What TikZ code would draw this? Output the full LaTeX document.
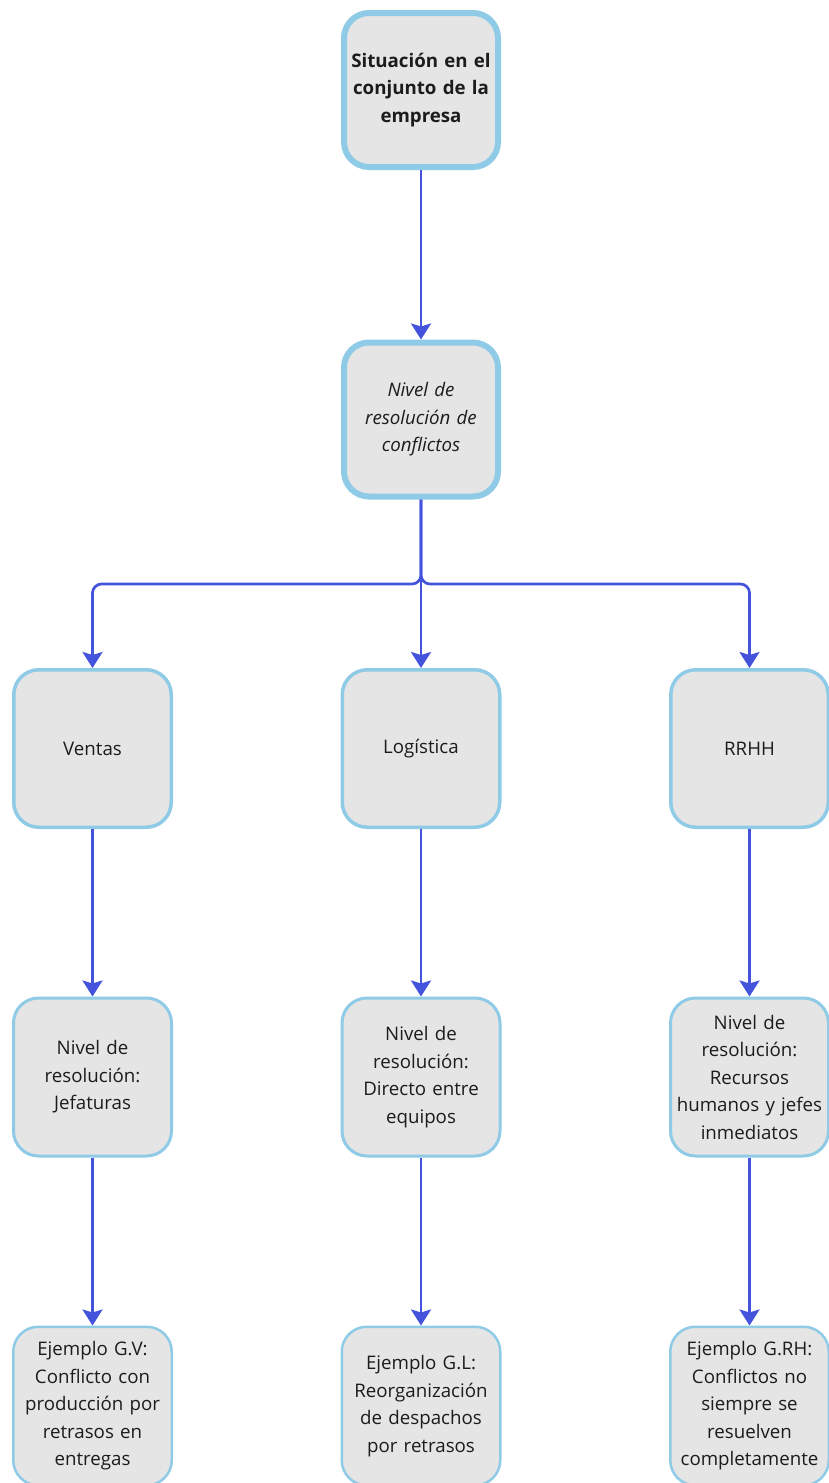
\documentclass[tikz,border=0pt]{standalone}
\usepackage{fontspec}
\setmainfont{Open Sans}
\usetikzlibrary{arrows.meta}
\definecolor{boxfill}{HTML}{E5E5E5}
\definecolor{boxline}{HTML}{8FCBE6}
\definecolor{flow}{HTML}{4353DB}
\definecolor{ink}{HTML}{1C1C1C}
\tikzset{
  box/.style={draw=boxline, fill=boxfill, rounded corners=25pt, align=center,
    text=ink, font=\fontsize{18.7pt}{27.5pt}\selectfont, inner sep=1pt, text width=152pt},
  headbox/.style={box, line width=6pt, minimum width=154pt, minimum height=154pt},
  deptbox/.style={box, line width=3.5pt, minimum width=157.5pt, minimum height=157.5pt},
  levelbox/.style={box, line width=3pt, minimum width=158pt, minimum height=158pt},
  casebox/.style={box, line width=2.5pt, minimum width=158.5pt, minimum height=158.5pt},
  link/.style={draw=flow, line width=2.7pt, rounded corners=9pt,
    -{Stealth[length=16pt,width=20pt,inset=3pt]}}
}
\begin{document}
\begin{tikzpicture}[x=1pt,y=-1pt]
\useasboundingbox (0,0) rectangle (829,1483);
% top of the hierarchy
\node[headbox, font=\bfseries\fontsize{18.7pt}{27.5pt}\selectfont] (top) at (421,90)
  {Situación en el\\conjunto de la\\empresa};
\node[headbox, font=\itshape\fontsize{18.7pt}{27.5pt}\selectfont] (lvl) at (421,419.5)
  {Nivel de\\resolución de\\conflictos};
% departments
\node[deptbox] (ven) at (92.5,748.5) {Ventas};
\node[deptbox] (log) at (421,748.5) {Logística};
\node[deptbox] (rh) at (749.5,748.5) {RRHH};
% resolution level per department
\node[levelbox] (nv) at (92.5,1077) {Nivel de\\resolución:\\Jefaturas};
\node[levelbox] (nl) at (421,1077) {Nivel de\\resolución:\\Directo entre\\equipos};
\node[levelbox] (nr) at (749.5,1077) {Nivel de\\resolución:\\Recursos\\humanos y jefes\\inmediatos};
% examples
\node[casebox] (ev) at (92.5,1406) {Ejemplo G.V:\\Conflicto con\\producción por\\retrasos en\\entregas};
\node[casebox] (el) at (421,1406) {Ejemplo G.L:\\Reorganización\\de despachos\\por retrasos};
\node[casebox] (er) at (749.5,1406) {Ejemplo G.RH:\\Conflictos no\\siempre se\\resuelven\\completamente};
% connectors
\coordinate (split) at (421,584);
\draw[link] (top) -- (lvl);
\draw[link] (lvl.south) -- (split) -| (ven.north);
\draw[link] (lvl.south) -- (split) -| (rh.north);
\draw[link] (lvl) -- (log);
\draw[link] (ven) -- (nv);
\draw[link] (log) -- (nl);
\draw[link] (rh) -- (nr);
\draw[link] (nv) -- (ev);
\draw[link] (nl) -- (el);
\draw[link] (nr) -- (er);
\end{tikzpicture}
\end{document}
